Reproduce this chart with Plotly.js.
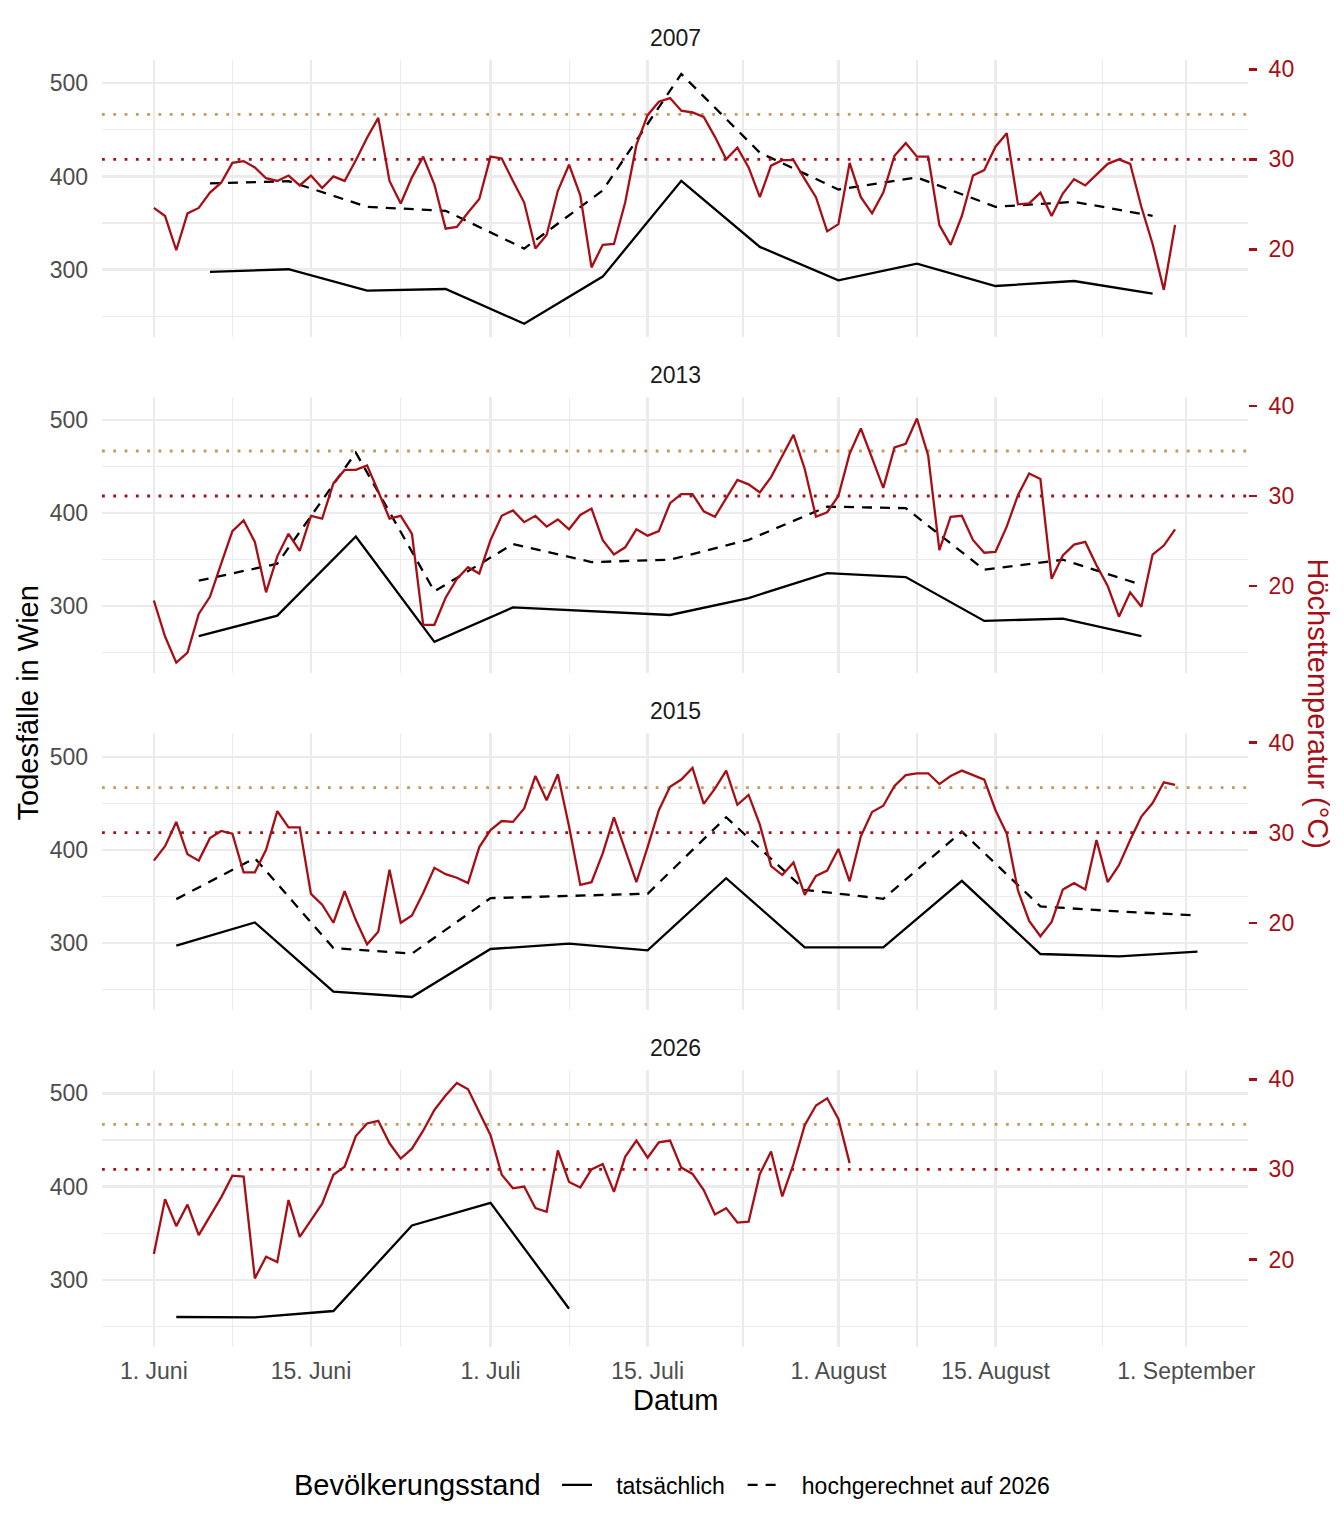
<!DOCTYPE html>
<html>
<head>
<meta charset="utf-8">
<script src="https://cdn.plot.ly/plotly-3.0.1.min.js"></script>
<style>
  html, body { margin: 0; padding: 0; background: #fff; }
  #chart { width: 1344px; height: 1536px; }
</style>
</head>
<body>
<div id="chart"></div>
<script>
(() => {
  "use strict";

  if (typeof Plotly === "undefined") throw new Error("Plotly missing");

  // ---------------------------------------------------------
  // Daten
  // ---------------------------------------------------------
  const YEARS = ["2007", "2013", "2015", "2026"];

  // Tageshöchsttemperatur ab 1. Juni (°C)
  const temp2007 = [24.6, 23.7, 19.9, 24.0, 24.6, 26.3, 27.4, 29.6, 29.8, 29.1,
    27.9, 27.6, 28.2, 27.1, 28.2, 26.8, 28.1, 27.6, 29.9, 32.4,
    34.6, 27.6, 25.1, 28.0, 30.3, 27.2, 22.3, 22.5, 24.1, 25.6,
    30.3, 30.1, 27.6, 25.2, 20.1, 21.6, 26.5, 29.4, 26.0, 18.0,
    20.5, 20.6, 25.2, 31.6, 34.9, 36.4, 36.8, 35.4, 35.2, 34.7,
    32.5, 30.0, 31.3, 29.1, 25.8, 29.3, 29.9, 29.9, 27.8, 25.8,
    22.0, 22.8, 29.6, 25.8, 24.0, 26.3, 30.4, 31.8, 30.3, 30.3,
    22.7, 20.5, 23.7, 28.2, 28.8, 31.4, 32.9, 25.0, 25.1, 26.3,
    23.7, 26.2, 27.8, 27.1, 28.3, 29.5, 30.0, 29.5, 24.7, 20.6,
    15.5, 22.7];
  const temp2013 = [18.4, 14.4, 11.5, 12.6, 16.9, 18.8, 22.5, 26.1, 27.3, 24.9,
    19.3, 23.3, 25.8, 23.9, 27.8, 27.5, 31.4, 32.9, 32.9, 33.4,
    30.5, 27.5, 27.8, 25.8, 15.7, 15.7, 18.7, 20.8, 22.1, 21.4,
    25.1, 27.8, 28.4, 27.1, 27.8, 26.6, 27.4, 26.3, 27.9, 28.6,
    25.1, 23.5, 24.3, 26.3, 25.6, 26.1, 29.2, 30.2, 30.2, 28.3,
    27.7, 29.7, 31.8, 31.3, 30.4, 32.1, 34.4, 36.8, 33.0, 27.7,
    28.2, 30.0, 34.7, 37.5, 34.2, 30.9, 35.4, 35.8, 38.6, 34.5,
    24.0, 27.7, 27.8, 25.1, 23.7, 23.8, 26.6, 30.1, 32.5, 31.9,
    20.8, 23.4, 24.6, 24.9, 22.3, 20.0, 16.6, 19.3, 17.7, 23.5,
    24.5, 26.3];
  const temp2015 = [26.9, 28.5, 31.2, 27.6, 26.9, 29.4, 30.2, 29.9, 25.6, 25.6,
    28.1, 32.4, 30.6, 30.6, 23.2, 22.0, 20.0, 23.5, 20.3, 17.6,
    19.0, 25.9, 20.0, 20.8, 23.3, 26.1, 25.4, 25.0, 24.4, 28.4,
    30.3, 31.3, 31.2, 32.7, 36.3, 33.6, 36.5, 30.7, 24.2, 24.5,
    27.7, 31.7, 28.1, 24.5, 28.4, 32.5, 35.1, 35.9, 37.2, 33.2,
    34.9, 36.9, 33.1, 34.2, 30.9, 26.3, 25.3, 26.7, 23.1, 25.2,
    25.8, 28.2, 24.6, 29.6, 32.3, 33.0, 35.2, 36.4, 36.6, 36.6,
    35.4, 36.3, 36.9, 36.4, 35.9, 32.5, 29.9, 23.6, 20.2, 18.5,
    20.1, 23.7, 24.4, 23.7, 29.2, 24.5, 26.4, 29.2, 31.8, 33.3,
    35.6, 35.3];
  const temp2026 = [20.6, 26.7, 23.7, 26.1, 22.7, 24.8, 26.9, 29.3, 29.2, 17.9,
    20.3, 19.7, 26.6, 22.5, 24.3, 26.2, 29.4, 30.3, 33.7, 35.1,
    35.4, 32.9, 31.2, 32.3, 34.3, 36.6, 38.2, 39.6, 38.9, 36.3,
    33.8, 29.4, 27.9, 28.1, 25.7, 25.3, 32.1, 28.6, 28.0, 30.0,
    30.6, 27.5, 31.4, 33.2, 31.3, 33.0, 33.2, 30.2, 29.5, 27.7,
    25.0, 25.7, 24.1, 24.2, 29.5, 32.0, 27.0, 30.6, 34.9, 37.1,
    37.9, 35.6, 30.7];

  // Wöchentliche Todesfälle (Wochenmitte)
  const weeks2007 = ["06-06", "06-13", "06-20", "06-27", "07-04", "07-11", "07-18",
    "07-25", "08-01", "08-08", "08-15", "08-22", "08-29"];
  const actual2007 = [297.5, 300.4, 277.4, 279.2, 241.9, 292.5, 395.3,
    324.4, 288.5, 306.5, 282.4, 287.8, 274.2];
  const projected2007 = [392.5, 395.0, 367.4, 363.1, 322.6, 385.0, 510.0,
    425.5, 386.0, 398.9, 367.4, 372.8, 357.7];

  const weeks2013 = ["06-05", "06-12", "06-19", "06-26", "07-03", "07-10", "07-17",
    "07-24", "07-31", "08-07", "08-14", "08-21", "08-28"];
  const actual2013 = [267.9, 290.0, 375.0, 261.8, 298.9, 295.0, 290.7,
    308.9, 335.7, 331.4, 284.3, 286.8, 267.9];
  const projected2013 = [327.5, 345.7, 465.0, 316.0, 366.8, 347.5, 350.0,
    371.4, 407.0, 405.4, 339.3, 350.0, 323.2];

  const weeks2015 = ["06-03", "06-10", "06-17", "06-24", "07-01", "07-08", "07-15",
    "07-22", "07-29", "08-05", "08-12", "08-19", "08-26", "09-02"];
  const actual2015 = [297.1, 322.1, 247.9, 242.1, 293.6, 299.3, 292.1,
    369.6, 295.4, 295.4, 366.8, 288.2, 285.7, 290.7];
  const projected2015 = [347.1, 391.1, 294.6, 288.6, 348.2, 350.7, 352.9,
    435.0, 357.1, 347.5, 419.6, 339.3, 333.9, 329.6];

  const weeks2026 = ["06-03", "06-10", "06-17", "06-24", "07-01", "07-08"];
  const actual2026 = [260.0, 259.5, 266.4, 358.2, 382.5, 268.9];

  // Achsen
  const xTickVals = ["06-01", "06-15", "07-01", "07-15", "08-01", "08-15", "09-01"];
  const xTickText = ["1. Juni", "15. Juni", "1. Juli", "15. Juli", "1. August", "15. August", "1. September"];
  const xMinorVals = ["06-08", "06-23", "07-08", "07-23 12:00", "08-08", "08-24 12:00"];
  const xRange = ["05-27 09:07", "09-06 12:00"];
  const deathTicks = [300, 400, 500];
  const deathMinor = [250, 350, 450];
  const deathRange = [228, 525];
  const tempTicks = [20, 30, 40];
  const tempRange = [10.3, 41.03];
  const tempRefValues = [35, 30];
  const tempRefColors = ["#C49B5C", "#A50F15"];

  // =========================================================
  // Hilfsfunktionen
  // =========================================================
  const BASE_YEAR = "2026";
  const toDate = (md) => `${BASE_YEAR}-${md}`;

  function dailyDates(n) {
    const out = [];
    const start = Date.UTC(2026, 5, 1);
    for (let i = 0; i < n; i++) {
      out.push(new Date(start + i * 86400000).toISOString().slice(0, 10));
    }
    return out;
  }

  const RED = "#A50F15";
  const FONT = "Liberation Sans, Arial, Helvetica, sans-serif";
  const GRID = "#EBEBEB";
  const NB = "\u00a0\u00a0\u00a0";

  const panels = [
    { year: YEARS[0], temp: temp2007, weeks: weeks2007, actual: actual2007, projected: projected2007 },
    { year: YEARS[1], temp: temp2013, weeks: weeks2013, actual: actual2013, projected: projected2013 },
    { year: YEARS[2], temp: temp2015, weeks: weeks2015, actual: actual2015, projected: projected2015 },
    { year: YEARS[3], temp: temp2026, weeks: weeks2026, actual: actual2026, projected: null },
  ];

  // Panel-Geometrie (px)
  const W = 1344, H = 1536;
  const M = { l: 102, r: 96, t: 60, b: 189 };
  const plotW = W - M.l - M.r;
  const plotH = H - M.t - M.b;
  const PANEL_H = 276.7;
  const PANEL_STEP = 336.7;
  const LEGEND_Y = 1485;
  const pxToPaperX = (px) => (px - M.l) / plotW;

  const traces = [];
  const layout = {
    width: W,
    height: H,
    margin: M,
    paper_bgcolor: "#fff",
    plot_bgcolor: "#fff",
    font: { family: FONT, size: 23, color: "#1A1A1A" },
    showlegend: true,
    legend: {
      orientation: "h",
      x: pxToPaperX(557),
      xanchor: "left",
      y: -(LEGEND_Y - (H - M.b)) / plotH,
      yanchor: "middle",
      font: { size: 23, color: "#000" },
      itemwidth: 30,
      traceorder: "normal",
      bgcolor: "rgba(0,0,0,0)",
    },
    annotations: [],
    hovermode: false,
  };

  panels.forEach((p, k) => {
    const xn = k + 1;
    const ln = 2 * k + 1;
    const rn = 2 * k + 2;
    const xid = xn === 1 ? "x" : "x" + xn;
    const lid = ln === 1 ? "y" : "y" + ln;
    const rid = "y" + rn;
    const last = k === panels.length - 1;

    const topFrac = 1 - (k * PANEL_STEP) / plotH;
    const botFrac = Math.max(0, 1 - (k * PANEL_STEP + PANEL_H) / plotH);

    layout["xaxis" + (xn === 1 ? "" : xn)] = {
      type: "date",
      anchor: lid,
      domain: [0, 1],
      range: xRange.map(toDate),
      tickmode: "array",
      tickvals: xTickVals.map(toDate),
      ticktext: xTickText,
      showticklabels: last,
      ticks: "",
      ticklabelstandoff: 8,
      tickfont: { size: 23, color: "#4D4D4D" },
      showgrid: true,
      gridcolor: GRID,
      gridwidth: 2.3,
      minor: {
        tickmode: "array",
        tickvals: xMinorVals.map(toDate),
        showgrid: true,
        gridcolor: GRID,
        gridwidth: 1.1,
        ticks: "",
      },
      showline: false,
      zeroline: false,
      fixedrange: true,
    };

    layout["yaxis" + (ln === 1 ? "" : ln)] = {
      anchor: xid,
      domain: [botFrac, topFrac],
      range: deathRange,
      tickmode: "array",
      tickvals: deathTicks,
      ticks: "",
      ticklabelstandoff: 13,
      tickfont: { size: 23, color: "#4D4D4D" },
      showgrid: true,
      gridcolor: GRID,
      gridwidth: 2.3,
      minor: {
        tickmode: "array",
        tickvals: deathMinor,
        showgrid: true,
        gridcolor: GRID,
        gridwidth: 1.1,
        ticks: "",
      },
      zeroline: false,
      showline: false,
      fixedrange: true,
    };

    layout["yaxis" + rn] = {
      anchor: xid,
      overlaying: lid,
      side: "right",
      range: tempRange,
      tickmode: "array",
      tickvals: tempTicks,
      ticks: "outside",
      ticklen: 8,
      tickwidth: 2.5,
      tickcolor: RED,
      ticklabelstandoff: 7,
      tickfont: { size: 23, color: RED },
      showgrid: false,
      zeroline: false,
      showline: false,
      fixedrange: true,
    };

    const wx = p.weeks.map(toDate);

    traces.push({
      type: "scatter",
      mode: "lines",
      name: NB + "tatsächlich\u00a0\u00a0",
      legendgroup: "act",
      showlegend: k === 0,
      x: wx,
      y: p.actual,
      xaxis: xid,
      yaxis: lid,
      line: { color: "#000", width: 2.3 },
    });

    if (p.projected) {
      traces.push({
        type: "scatter",
        mode: "lines",
        name: NB + "hochgerechnet auf 2026",
        legendgroup: "proj",
        showlegend: k === 0,
        x: wx,
        y: p.projected,
        xaxis: xid,
        yaxis: lid,
        line: { color: "#000", width: 2.3, dash: "10px,8px" },
      });
    }

    // Referenzlinien 35 °C / 30 °C über die ganze Panelbreite
    tempRefValues.forEach((v, i) => {
      traces.push({
        type: "scatter",
        mode: "lines",
        showlegend: false,
        x: xRange.map(toDate),
        y: [v, v],
        xaxis: xid,
        yaxis: rid,
        line: { color: tempRefColors[i], width: 2.8, dash: "2.8px,8.5px" },
      });
    });

    traces.push({
      type: "scatter",
      mode: "lines",
      name: "Höchsttemperatur",
      showlegend: false,
      x: dailyDates(p.temp.length),
      y: p.temp,
      xaxis: xid,
      yaxis: rid,
      line: { color: RED, width: 2.3 },
    });

    // Facettentitel
    layout.annotations.push({
      text: p.year,
      xref: "paper",
      yref: "paper",
      x: 0.5,
      y: topFrac,
      xanchor: "center",
      yanchor: "middle",
      yshift: 22,
      showarrow: false,
      font: { size: 23, color: "#1A1A1A" },
    });
  });

  // Achsentitel und Legendentitel
  layout.annotations.push(
    {
      text: "Datum",
      xref: "paper", yref: "paper",
      x: 0.5, y: 0,
      xanchor: "center", yanchor: "middle",
      yshift: -53,
      showarrow: false,
      font: { size: 29, color: "#000" },
    },
    {
      text: "Todesfälle in Wien",
      xref: "paper", yref: "paper",
      x: 0, y: 0.5,
      xanchor: "center", yanchor: "middle",
      xshift: -75,
      textangle: -90,
      showarrow: false,
      font: { size: 29, color: "#000" },
    },
    {
      text: "Höchsttemperatur (°C)",
      xref: "paper", yref: "paper",
      x: 1, y: 0.5,
      xanchor: "center", yanchor: "middle",
      xshift: 70,
      textangle: 90,
      showarrow: false,
      font: { size: 29, color: RED },
    },
    {
      text: "Bevölkerungsstand",
      xref: "paper", yref: "paper",
      x: pxToPaperX(543), y: 0,
      xanchor: "right", yanchor: "middle",
      yshift: -(LEGEND_Y - (H - M.b)),
      showarrow: false,
      font: { size: 29, color: "#000" },
    }
  );

  Plotly.newPlot("chart", traces, layout, { staticPlot: true, displayModeBar: false });
})();
</script>
</body>
</html>
